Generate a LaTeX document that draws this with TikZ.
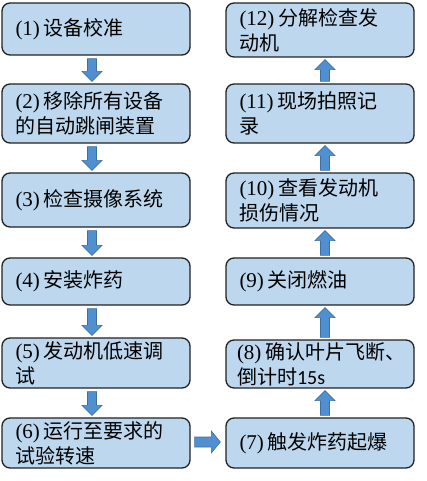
\documentclass[tikz,border=0pt]{standalone}
\usepackage{fontspec}
\setmainfont{Liberation Serif}
\newfontfamily\cjk{Noto Sans CJK SC}
\newfontfamily\latsans{Carlito}
\usetikzlibrary{calc}
\definecolor{boxfill}{HTML}{BDD7EE}
\definecolor{boxline}{HTML}{222222}
\definecolor{arrowfill}{HTML}{5090D0}
\definecolor{arrowline}{HTML}{3D6FA0}
\newcommand\nm[1]{{\rmfamily\fontsize{21}{25}\selectfont #1}\nobreak\hspace{4pt}\nobreak}
% #1 from, #2 to, #3 shaft half width, #4 head half width, #5 head length
\newcommand\blockarrow[5]{%
  \coordinate (ah) at ($(#2)!#5!(#1)$);
  \filldraw[fill=arrowfill, draw=arrowline, line width=0.6pt]
    ($(#1)!#3!90:(#2)$) -- ($(ah)!#3!90:(#2)$) -- ($(ah)!#4!90:(#2)$)
    -- (#2) -- ($(ah)!#4!-90:(#2)$) -- ($(ah)!#3!-90:(#2)$)
    -- ($(#1)!#3!-90:(#2)$) -- cycle;}
\begin{document}
\begin{tikzpicture}[x=1pt,y=-1pt,
  stepbox/.style={draw=boxline, line width=1.3pt, fill=boxfill,
    rounded corners=8pt, minimum width=188pt, text width=166pt,
    align=left, inner xsep=11pt, inner ysep=0pt,
    font=\fontsize{20}{25}\selectfont\cjk}]
\useasboundingbox (0,0) rectangle (426,481);
% left column
\node[stepbox, minimum height=52pt] (b1) at (96,29) {\hspace{2.5pt}\nm{(1)}设备校准};
\node[stepbox, minimum height=59pt] (b2) at (96,113.5) {\hspace{2.5pt}\nm{(2)}移除所有设备\\\hspace*{2.5pt}的自动跳闸装置};
\node[stepbox, minimum height=54pt] (b3) at (96,200) {\hspace{2.5pt}\nm{(3)}检查摄像系统};
\node[stepbox, minimum height=47pt] (b4) at (96,281.5) {\hspace{2.5pt}\nm{(4)}安装炸药};
\node[stepbox, minimum height=50pt] (b5) at (96,363) {\hspace{2.5pt}\nm{(5)}发动机低速调\\\hspace*{2.5pt}试};
\node[stepbox, minimum height=50pt] (b6) at (96,443) {\hspace{2.5pt}\nm{(6)}运行至要求的\\\hspace*{2.5pt}试验转速};
% right column
\node[stepbox, minimum height=50pt] (b7) at (320,443) {\hspace{2.5pt}\nm{(7)}触发炸药起爆};
\node[stepbox, minimum height=48pt] (b8) at (320,364) {\nm{(8)}确认叶片飞断、\\倒计时{\latsans 15s}};
\node[stepbox, minimum height=47pt] (b9) at (320,281.5) {\hspace{2.5pt}\nm{(9)}关闭燃油};
\node[stepbox, minimum height=55pt] (b10) at (320,200.5) {\hspace{2.5pt}\nm{(10)}查看发动机\\\hspace*{2.5pt}损伤情况};
\node[stepbox, minimum height=59pt] (b11) at (320,113.5) {\hspace{2.5pt}\nm{(11)}现场拍照记\\\hspace*{2.5pt}录};
\node[stepbox, minimum height=54pt] (b12) at (320,30) {\hspace{2.5pt}\nm{(12)}分解检查发\\\hspace*{2.5pt}动机};
% arrow end points
\foreach \a/\b in {b1/b2,b2/b3,b3/b4,b4/b5,b5/b6}{
  \coordinate (\a-s) at ($(\a.south)+(-4,3)$);
  \coordinate (\b-n) at ($(\b.north)+(-4,-2)$);
  \blockarrow{\a-s}{\b-n}{4.5pt}{10pt}{10pt}
}
\foreach \a/\b in {b7/b8,b8/b9,b9/b10,b10/b11,b11/b12}{
  \coordinate (\a-n) at ($(\a.north)+(5,-2)$);
  \coordinate (\b-s) at ($(\b.south)+(5,2)$);
  \blockarrow{\a-n}{\b-s}{4.5pt}{10pt}{10pt}
}
\coordinate (b6-e) at ($(b6.east)+(4,-1)$);
\coordinate (b7-w) at ($(b7.west)+(-5,-1)$);
\blockarrow{b6-e}{b7-w}{5pt}{11pt}{9pt}
\end{tikzpicture}
\end{document}
